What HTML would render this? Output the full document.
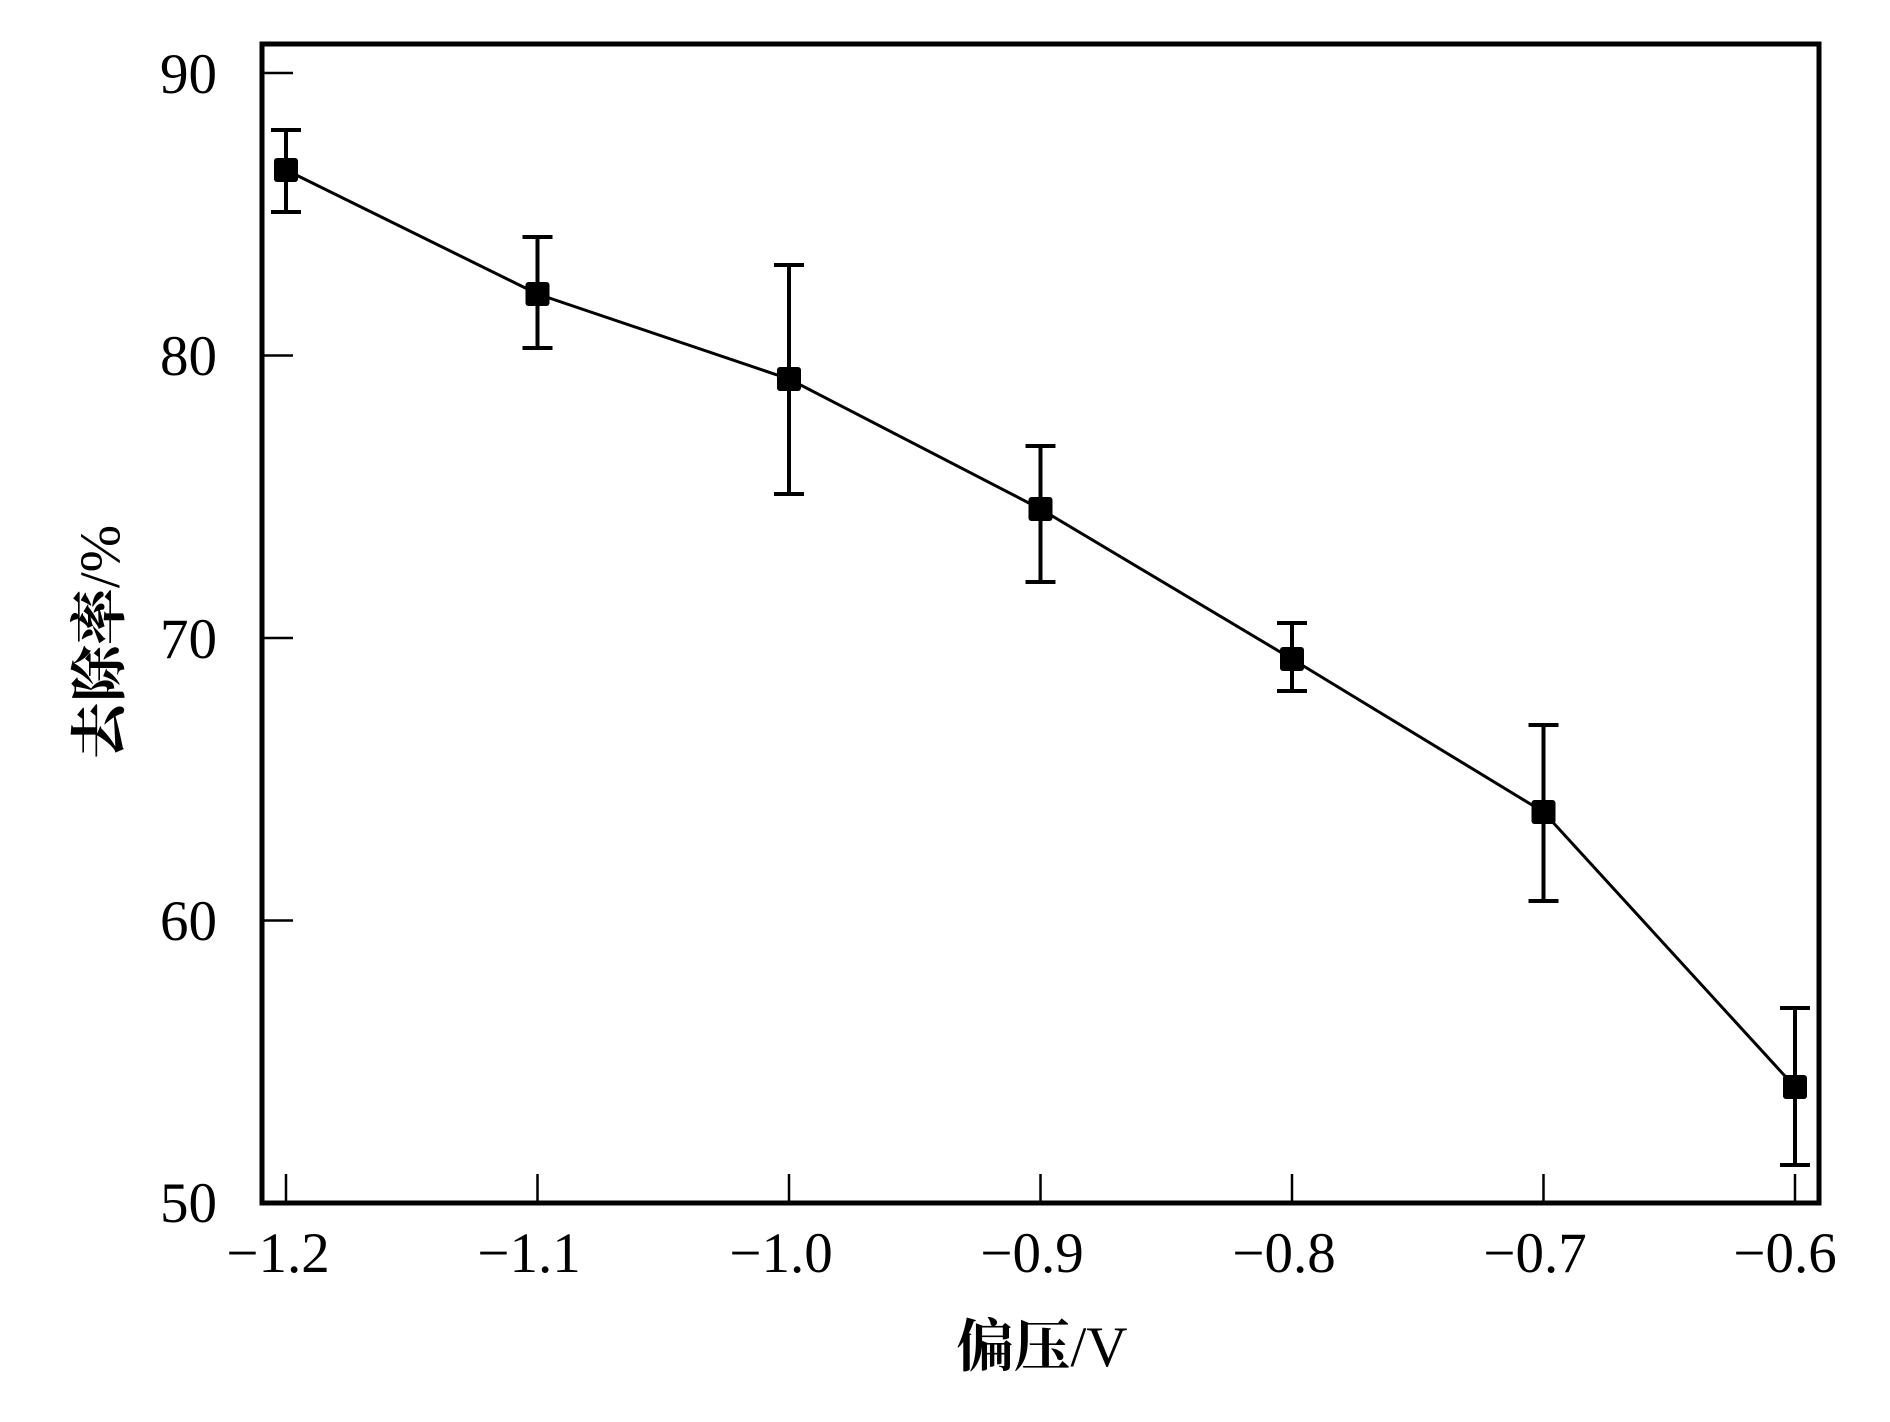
<!DOCTYPE html>
<html><head><meta charset="utf-8"><style>html,body{margin:0;padding:0;background:#fff}</style></head>
<body>
<svg width="1890" height="1417" viewBox="0 0 1890 1417" xmlns="http://www.w3.org/2000/svg" font-family="'Liberation Serif','Noto Serif CJK SC',serif">
<rect width="1890" height="1417" fill="#fff"/>
<g stroke="#000" stroke-width="2.5">
<line x1="262" y1="73" x2="293" y2="73"/>
<line x1="262" y1="355.5" x2="293" y2="355.5"/>
<line x1="262" y1="638" x2="293" y2="638"/>
<line x1="262" y1="920.5" x2="293" y2="920.5"/>
<line x1="286" y1="1203" x2="286" y2="1174"/>
<line x1="537.5" y1="1203" x2="537.5" y2="1174"/>
<line x1="789" y1="1203" x2="789" y2="1174"/>
<line x1="1040.5" y1="1203" x2="1040.5" y2="1174"/>
<line x1="1292" y1="1203" x2="1292" y2="1174"/>
<line x1="1543.5" y1="1203" x2="1543.5" y2="1174"/>
<line x1="1795" y1="1203" x2="1795" y2="1174"/>
</g>
<rect x="262" y="44" width="1557" height="1159" fill="none" stroke="#000" stroke-width="5"/>
<polyline fill="none" stroke="#000" stroke-width="3" points="286,170 537.5,294 789,379 1040.5,509 1292,659 1543.5,812 1795,1087"/>
<g stroke="#000" stroke-width="4">
<path d="M286,130V212M271,130H301M271,212H301"/>
<path d="M537.5,237V348M522.5,237H552.5M522.5,348H552.5"/>
<path d="M789,265V494M774,265H804M774,494H804"/>
<path d="M1040.5,446V582M1025.5,446H1055.5M1025.5,582H1055.5"/>
<path d="M1292,623V691M1277,623H1307M1277,691H1307"/>
<path d="M1543.5,725V901M1528.5,725H1558.5M1528.5,901H1558.5"/>
<path d="M1795,1008V1165M1780,1008H1810M1780,1165H1810"/>
</g>
<g fill="#000">
<rect x="274" y="158" width="24" height="24" rx="3"/>
<rect x="525.5" y="282" width="24" height="24" rx="3"/>
<rect x="777" y="367" width="24" height="24" rx="3"/>
<rect x="1028.5" y="497" width="24" height="24" rx="3"/>
<rect x="1280" y="647" width="24" height="24" rx="3"/>
<rect x="1531.5" y="800" width="24" height="24" rx="3"/>
<rect x="1783" y="1075" width="24" height="24" rx="3"/>
</g>
<g font-size="57" text-anchor="end" fill="#000">
<text x="217" y="93">90</text>
<text x="217" y="375">80</text>
<text x="217" y="658">70</text>
<text x="217" y="940">60</text>
<text x="217" y="1222">50</text>
</g>
<g font-size="57" text-anchor="middle" fill="#000">
<text x="278" y="1272">−1.2</text>
<text x="529" y="1272">−1.1</text>
<text x="781" y="1272">−1.0</text>
<text x="1032" y="1272">−0.9</text>
<text x="1284" y="1272">−0.8</text>
<text x="1535" y="1272">−0.7</text>
<text x="1785" y="1272">−0.6</text>
</g>
<text x="1042" y="1366" font-size="57" text-anchor="middle"><tspan font-weight="bold">偏压</tspan>/V</text>
<text transform="translate(119,642) rotate(-90)" font-size="57" text-anchor="middle"><tspan font-weight="bold">去除率</tspan>/%</text>
</svg>
</body></html>
